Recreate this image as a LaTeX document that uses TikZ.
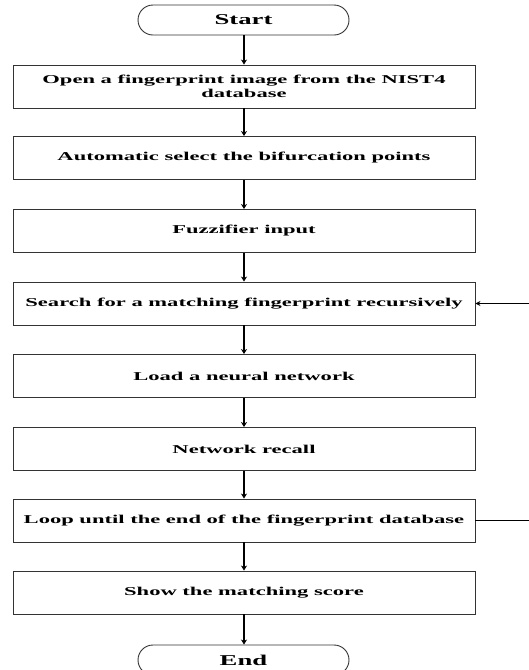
\documentclass[tikz,border=0pt]{standalone}
\usepackage{fontspec}
\setmainfont{Liberation Serif}
\newfontfamily\boxfont{Liberation Serif}[FakeStretch=1.88]
\newfontfamily\termfont{Liberation Serif}[FakeStretch=1.78]
\usetikzlibrary{arrows.meta}
\begin{document}
\begin{tikzpicture}[x=1pt,y=-1pt,
  stepbox/.style={draw=black!80, line width=0.9pt, minimum width=462pt, minimum height=43pt,
    inner sep=0pt, align=center, font=\boxfont\bfseries\fontsize{12}{14}\selectfont},
  termbox/.style={draw=black!80, line width=0.9pt, rounded corners=15pt, minimum width=211pt,
    minimum height=30pt, inner sep=0pt, font=\termfont\bfseries\fontsize{15}{17}\selectfont},
  flow/.style={line width=1.4pt, -{Stealth[length=5pt,width=6pt]}},
  plain/.style={line width=1pt}]
\fill[white] (0,0) rectangle (528,670);
\useasboundingbox (0,0) rectangle (528,670);
\node[termbox] (start) at (243.5,20) {Start};
\node[stepbox] (s1) at (244,86.5) {Open a fingerprint image from the NIST4\\database};
\node[stepbox] (s2) at (244,158) {Automatic select the bifurcation points};
\node[stepbox] (s3) at (244,231) {Fuzzifier input};
\node[stepbox] (s4) at (244,303.5) {Search for a matching fingerprint recursively};
\node[stepbox] (s5) at (244,376) {Load a neural network};
\node[stepbox] (s6) at (244,449) {Network recall};
\node[stepbox] (s7) at (244,520.5) {Loop until the end of the fingerprint database};
\node[stepbox] (s8) at (244,592.5) {Show the matching score};
\node[termbox] (end) at (243.5,660) {End};
\draw[flow] (start.south -| s1.north) -- (s1.north);
\draw[flow] (s1) -- (s2);
\draw[flow] (s2) -- (s3);
\draw[flow] (s3) -- (s4);
\draw[flow] (s4) -- (s5);
\draw[flow] (s5) -- (s6);
\draw[flow] (s6) -- (s7);
\draw[flow] (s7) -- (s8);
\draw[flow] (s8.south) -- (s8.south |- end.north);
\coordinate (e1) at (530,520.5);
\coordinate (e2) at (530,303.5);
\draw[plain] (s7.east) -- (e1);
\draw[plain] (e1) -- (e2);
\draw[line width=1pt, -{Stealth[length=5pt,width=5pt]}] (e2) -- (s4.east);
\end{tikzpicture}
\end{document}
